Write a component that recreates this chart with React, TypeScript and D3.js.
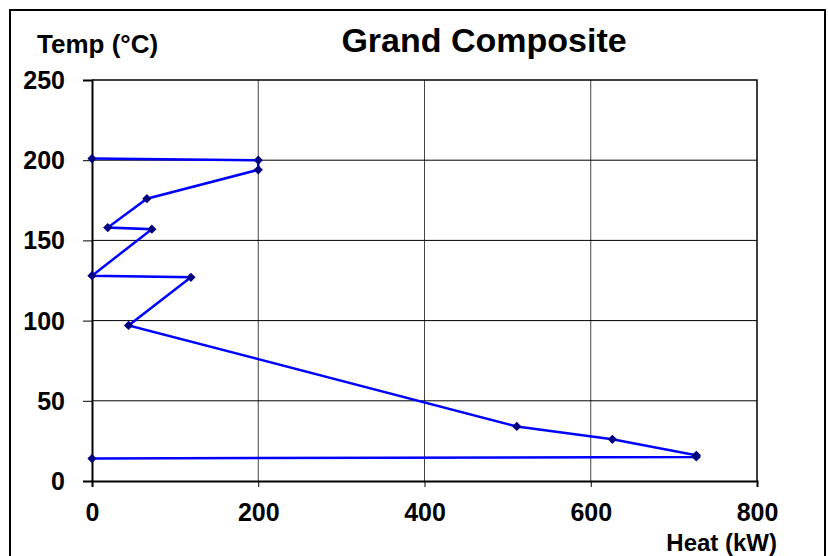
import React from "react";
import * as d3 from "d3";

// grand composite curve points
const heat = [0, 200, 200, 66, 19, 72, 0, 119, 44, 511, 626, 727, 727, 0];
const temp = [201, 200, 194, 176, 158, 157, 128, 127, 97, 34, 26, 16, 15, 14];
const xTicks = [0, 200, 400, 600, 800];
const yTicks = [0, 50, 100, 150, 200, 250];

const width = 828;
const height = 556;
const font = "'Liberation Sans', Arial, Helvetica, sans-serif";

export default function App() {
  const ref = React.useRef<SVGSVGElement>(null);

  React.useEffect(() => {
    const svg = d3.select(ref.current);
    svg.selectAll("*").remove();

    const x = d3.scaleLinear([0, 800], [92, 757]);
    const y = d3.scaleLinear([0, 250], [481, 80]);
    const data = heat.map((h, i) => ({ h, t: temp[i] }));

    // outer frame
    svg.append("path")
      .attr("d", `M10,${height} V10 H825 V${height}`)
      .attr("fill", "none")
      .attr("stroke", "#000")
      .attr("stroke-width", 2);

    // grid
    svg.append("g")
      .selectAll("line")
      .data(xTicks.slice(1, -1))
      .join("line")
        .attr("x1", d => x(d)).attr("x2", d => x(d))
        .attr("y1", y(0)).attr("y2", y(250))
        .attr("stroke", "#444").attr("stroke-width", 1);
    svg.append("g")
      .selectAll("line")
      .data(yTicks.slice(1, -1))
      .join("line")
        .attr("x1", x(0)).attr("x2", x(800))
        .attr("y1", d => y(d)).attr("y2", d => y(d))
        .attr("stroke", "#000").attr("stroke-width", 1);

    // plot border top/right
    svg.append("path")
      .attr("d", `M${x(0)},${y(250)} H${x(800)} V${y(0)}`)
      .attr("fill", "none")
      .attr("stroke", "#000")
      .attr("stroke-width", 1.5);

    // axes
    const yAxis = svg.append("g")
      .attr("transform", `translate(${x(0)},0)`)
      .call(d3.axisLeft(y).tickValues(yTicks).tickSize(9).tickPadding(18).tickFormat(d3.format("d")));
    const xAxis = svg.append("g")
      .attr("transform", `translate(0,${y(0)})`)
      .call(d3.axisBottom(x).tickValues(xTicks).tickSize(6).tickPadding(16).tickFormat(d3.format("d")));
    for (const g of [xAxis, yAxis]) {
      g.select(".domain").attr("stroke", "#000").attr("stroke-width", 2);
      g.selectAll(".tick line").attr("stroke", "#000").attr("stroke-width", 1);
      g.selectAll(".tick text")
        .attr("font-family", font)
        .attr("font-weight", "bold")
        .attr("font-size", 25)
        .attr("fill", "#000");
    }
    yAxis.selectAll(".tick text").attr("dy", "0.34em");

    // curve
    const line = d3.line<{ h: number; t: number }>()
      .x(d => x(d.h))
      .y(d => y(d.t));
    svg.append("path")
      .datum(data)
      .attr("d", line)
      .attr("fill", "none")
      .attr("stroke", "#0000ff")
      .attr("stroke-width", 2.5);

    svg.append("g")
      .selectAll("path")
      .data(data)
      .join("path")
        .attr("d", d3.symbol(d3.symbolDiamond2, 55))
        .attr("transform", d => `translate(${x(d.h)},${y(d.t)})`)
        .attr("fill", "#000080");

    // titles
    svg.append("text")
      .attr("x", 484).attr("y", 52)
      .attr("text-anchor", "middle")
      .attr("font-family", font).attr("font-weight", "bold").attr("font-size", 34)
      .text("Grand Composite");
    svg.append("text")
      .attr("x", 37).attr("y", 53)
      .attr("font-family", font).attr("font-weight", "bold").attr("font-size", 26)
      .text("Temp (°C)");
    svg.append("text")
      .attr("x", 777).attr("y", 551)
      .attr("text-anchor", "end")
      .attr("font-family", font).attr("font-weight", "bold").attr("font-size", 24)
      .text("Heat (kW)");
  }, []);

  return (
    <svg
      ref={ref}
      width={width}
      height={height}
      style={{ position: "absolute", left: 0, top: 0, background: "#fff" }}
    />
  );
}
